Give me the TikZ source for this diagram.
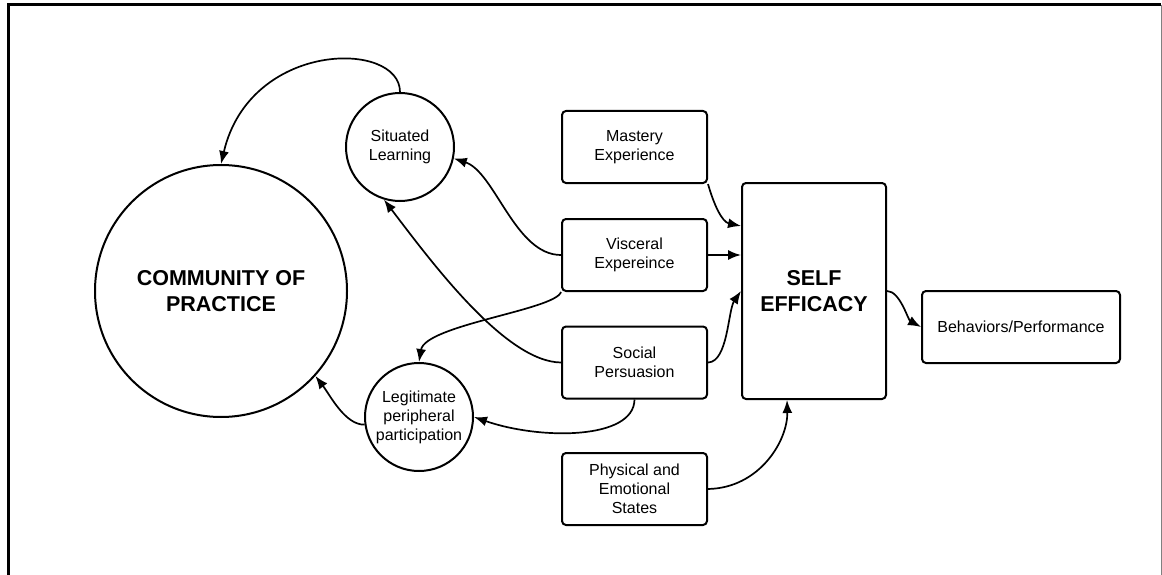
\documentclass[tikz,border=0pt]{standalone}
\usepackage{fontspec}
\setmainfont{Liberation Sans}
\usetikzlibrary{arrows.meta}

\begin{document}
\begin{tikzpicture}[x=1pt,y=-1pt,>={Latex[length=13pt,width=10pt]},
    shape line/.style={draw,line width=2pt},
    link/.style={->,line width=1.7pt},
    txt/.style={align=center,inner sep=0pt,font=\fontsize{16}{19}\selectfont},
    bigtxt/.style={align=center,inner sep=0pt,font=\fontsize{21.5}{26}\selectfont\bfseries},
    bigcirc/.style={shape line,bigtxt,circle,minimum size=252pt},
    smallcirc/.style={shape line,txt,circle,minimum size=108pt},
    srcbox/.style={shape line,txt,rounded corners=4pt,minimum width=145pt,minimum height=72pt},
    sebox/.style={shape line,bigtxt,rounded corners=4pt,minimum width=144pt,minimum height=216pt},
    outbox/.style={shape line,txt,rounded corners=4pt,minimum width=198pt,minimum height=72pt}]
        \useasboundingbox (0,0) rectangle (1162,575);
        % frame
        \draw[line width=3pt](8,575)--(8,5)--(1161,5);
        \draw[gray,line width=1pt](1161,5)--(1161,575);
        % nodes
        \node[bigcirc](cop) at (221,291){COMMUNITY OF\\PRACTICE};
        \node[smallcirc](sl) at (400,147){Situated\\Learning};
        \node[smallcirc](lpp) at (419,417){Legitimate\\peripheral\\participation};
        \node[srcbox](me) at (634.5,147){Mastery\\Experience};
        \node[srcbox](ve) at (634.5,255){Visceral\\Expereince};
        \node[srcbox](sp) at (634.5,362.5){Social\\Persuasion};
        \node[srcbox](pe) at (634.5,489){Physical and\\Emotional\\States};
        \node[sebox](se) at (814,291){SELF\\EFFICACY};
        \node[outbox](bp) at (1021,327){Behaviors/Performance};
        \coordinate (se1) at ([yshift=-44pt]se.north west);
        \coordinate (se4) at ([xshift=46pt]se.south west);
        % links
        \draw[link](sl.north) .. controls (400,40) and (250,40) .. (cop.north);
        \draw[link](ve.west) .. controls (515,255) and (495,172) .. (sl.-12);
        \draw[link](sp.west) .. controls (505,362) and (430,260) .. (sl.-107);
        \draw[link](ve.south west) .. controls (555,310) and (425,325) .. (lpp.north);
        \draw[link](sp.south) .. controls (634,440) and (540,440) .. (lpp.east);
        \draw[link](lpp.188) .. controls (345,425) and (330,395) .. (cop.-42);
        \draw[link](me.south east) .. controls (714,205) and (722,222) .. (se1);
        \draw[link](ve.east)--(ve.east -| se.west);
        \draw[link](sp.east) .. controls (728,362) and (728,310) .. (se.west);
        \draw[link](pe.east) .. controls (760,488) and (788,440) .. (se4);
        \draw[link](se.east) .. controls (900,291) and (908,320) .. (bp.west);
\end{tikzpicture}
\end{document}
